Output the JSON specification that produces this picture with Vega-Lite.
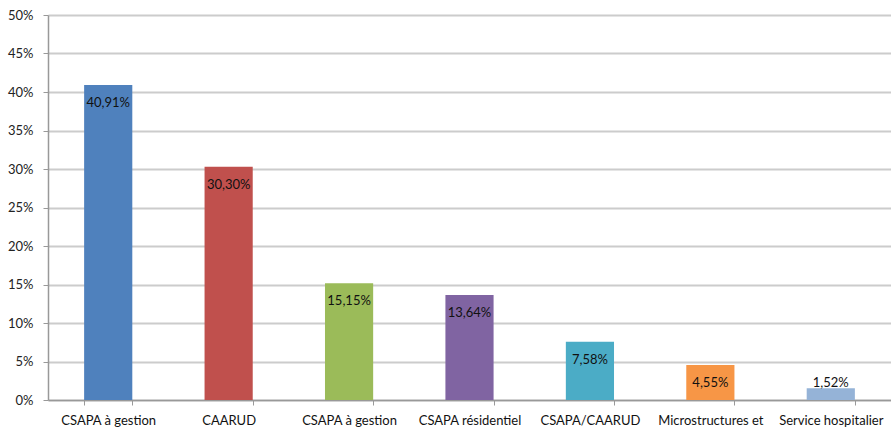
{
  "$schema": "https://vega.github.io/schema/vega-lite/v6.json",
  "autosize": {"type": "none"},
  "padding": {"left": 48, "top": 15, "right": 0, "bottom": 27},
  "width": 843,
  "height": 385,
  "background": "white",
  "config": {
    "locale": {"number": {"decimal": ",", "thousands": " ", "grouping": [3], "currency": ["", " €"]}},
    "view": {"stroke": null},
    "font": "Lato",
    "axisY": {
      "title": null,
      "values": [0, 0.05, 0.1, 0.15, 0.2, 0.25, 0.3, 0.35, 0.4, 0.45, 0.5],
      "format": ".0%",
      "labelFontSize": 13,
      "labelColor": "#222222",
      "labelPadding": 10,
      "labelOverlap": false,
      "tickSize": 5,
      "tickColor": "#999999",
      "domainColor": "#999999",
      "domainWidth": 1.5,
      "grid": true,
      "gridColor": "#cccccc",
      "gridWidth": 1.8
    }
  },
  "data": {
    "values": [
      {"categorie": "CSAPA à gestion", "part": 0.4091, "couleur": "c1"},
      {"categorie": "CAARUD", "part": 0.3030, "couleur": "c2"},
      {"categorie": "CSAPA à gestion ", "part": 0.1515, "couleur": "c3"},
      {"categorie": "CSAPA résidentiel", "part": 0.1364, "couleur": "c4"},
      {"categorie": "CSAPA/CAARUD", "part": 0.0758, "couleur": "c5"},
      {"categorie": "Microstructures et", "part": 0.0455, "couleur": "c6"},
      {"categorie": "Service hospitalier", "part": 0.0152, "couleur": "c7"}
    ]
  },
  "encoding": {
    "x": {
      "field": "categorie",
      "type": "nominal",
      "sort": null,
      "scale": {"paddingInner": 0.6, "paddingOuter": 0.3},
      "axis": {
        "title": null,
        "labelAngle": 0,
        "labelFontSize": 13,
        "labelColor": "#111111",
        "labelPadding": 9,
        "tickBand": "extent",
        "tickSize": 5,
        "tickColor": "#999999",
        "domainColor": "#999999",
        "domainWidth": 1.5,
        "grid": false,
        "labelOverlap": false,
        "labelLimit": 200
      }
    }
  },
  "layer": [
    {
      "mark": {"type": "bar"},
      "encoding": {
        "y": {
          "field": "part",
          "type": "quantitative",
          "scale": {"domain": [0, 0.5]},
          "axis": {"format": ".0%", "values": [0, 0.05, 0.1, 0.15, 0.2, 0.25, 0.3, 0.35, 0.4, 0.45, 0.5]}
        },
        "color": {
          "field": "couleur",
          "type": "nominal",
          "scale": {
            "domain": ["c1", "c2", "c3", "c4", "c5", "c6", "c7"],
            "range": ["#4F81BD", "#C0504D", "#9BBB59", "#8064A2", "#4BACC6", "#F79646", "#95B3D7"]
          },
          "legend": null
        }
      }
    },
    {
      "transform": [{"calculate": "max(datum.part, 0.0455)", "as": "pos"}],
      "mark": {"type": "text", "baseline": "middle", "dy": 18, "fontSize": 13, "color": "#111111"},
      "encoding": {
        "y": {
          "field": "pos",
          "type": "quantitative",
          "scale": {"domain": [0, 0.5]},
          "axis": {"format": ".0%", "values": [0, 0.05, 0.1, 0.15, 0.2, 0.25, 0.3, 0.35, 0.4, 0.45, 0.5]}
        },
        "text": {"field": "part", "type": "quantitative", "format": ".2%"}
      }
    }
  ]
}
